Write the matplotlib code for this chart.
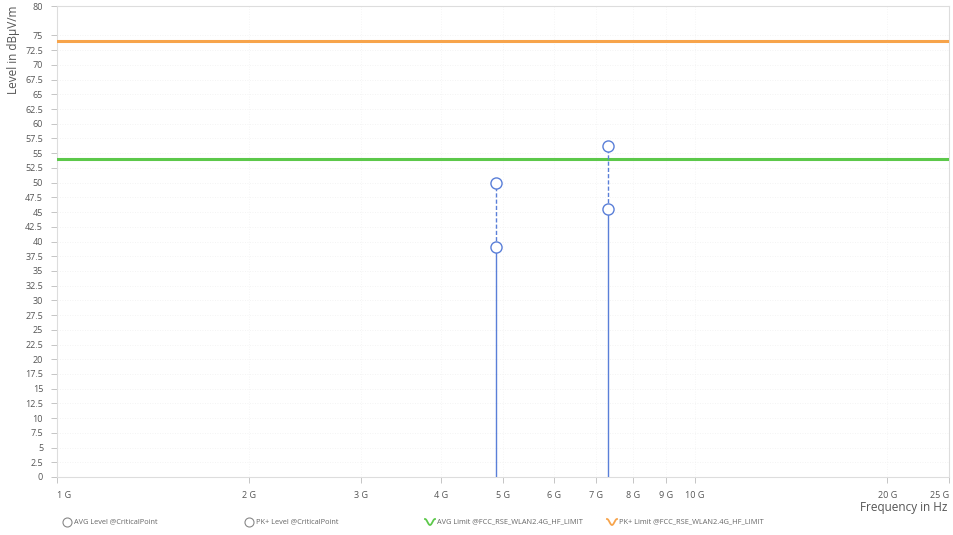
import numpy as np
import matplotlib
matplotlib.use("Agg")
import matplotlib.pyplot as plt
from matplotlib.ticker import FixedLocator, NullLocator

plt.rcParams['font.family'] = ['Open Sans', 'DejaVu Sans']

# Data
freqs_ghz = [4.874, 7.311]
avg_levels = [39.0, 45.5]
pk_levels = [49.9, 56.3]
avg_limit = 54.0
pk_limit = 74.0

xtick_vals = [1, 2, 3, 4, 5, 6, 7, 8, 9, 10, 20, 25]
xtick_labels = ["1 G", "2 G", "3 G", "4 G", "5 G", "6 G", "7 G", "8 G", "9 G", "10 G", "20 G", "25 G"]
ytick_vals = [i * 2.5 for i in range(31)] + [80]
ytick_labels = [("%g" % v) for v in ytick_vals]

legend_labels = ["AVG Level @CriticalPoint", "PK+ Level @CriticalPoint",
                 "AVG Limit @FCC_RSE_WLAN2.4G_HF_LIMIT", "PK+ Limit @FCC_RSE_WLAN2.4G_HF_LIMIT"]

blue = "#5a7fd8"
green = "#5cc84a"
orange = "#f7a44b"
txt = "#555555"

fig = plt.figure(figsize=(9.54, 5.35), dpi=100)
W, H = 954, 535
ax = fig.add_axes([57 / W, (H - 477) / H, (949 - 57) / W, (477 - 6) / H])
ax.set_xscale("log")
ax.set_xlim(1, 25)
ax.set_ylim(0, 80)

for s in ax.spines.values():
    s.set_color("#dddddd")
    s.set_linewidth(0.8)

ax.grid(True, axis="y", color="#f0f0f0", linestyle=(0, (1, 2)), linewidth=0.6)
ax.grid(True, axis="x", color="#f3f3f3", linestyle=(0, (1, 2)), linewidth=0.6)
ax.set_axisbelow(True)

ax.axhline(pk_limit, color=orange, lw=2.2, zorder=3)
ax.axhline(avg_limit, color=green, lw=2.2, zorder=3)

for f, a, p in zip(freqs_ghz, avg_levels, pk_levels):
    ax.plot([f, f], [0, a], color=blue, lw=1.0, zorder=4)
    ax.plot([f, f], [a, p], color=blue, lw=1.0, ls=(0, (3, 1.5)), zorder=4)
ax.plot(freqs_ghz, avg_levels, 'o', ms=8, mfc="white", mec=blue, mew=1.0, zorder=5)
ax.plot(freqs_ghz, pk_levels, 'o', ms=8, mfc="white", mec=blue, mew=1.0, zorder=5)

ax.xaxis.set_major_locator(FixedLocator(xtick_vals))
ax.xaxis.set_minor_locator(NullLocator())
ax.set_xticklabels(xtick_labels)
ax.yaxis.set_major_locator(FixedLocator(ytick_vals))
ax.set_yticklabels(ytick_labels)
ax.tick_params(axis="both", labelsize=6.5, colors="#bbbbbb", labelcolor=txt, length=4, width=0.6)
ax.tick_params(axis="x", pad=6)
ax.tick_params(axis="y", pad=6)
xt = ax.get_xticklabels()
xt[0].set_horizontalalignment("left")
xt[-1].set_horizontalalignment("right")

fig.text(14 / W, 1 - 5 / H, "Level in dBµV/m", rotation=90, ha="center", va="top",
         fontsize=8.5, color=txt)
fig.text(947 / W, 1 - 507 / H, "Frequency in Hz", ha="right", va="center",
         fontsize=8.5, color=txt)

# Legend overlay
lax = fig.add_axes([0, 0, 1, 1], facecolor="none")
lax.set_xlim(0, W)
lax.set_ylim(H, 0)
lax.axis("off")
ly = 522
lax.plot([67], [ly], 'o', ms=6.5, mfc="white", mec="#888888", mew=0.8)
lax.text(74, ly, legend_labels[0], fontsize=5.3, color="#666666", va="center")
lax.plot([249], [ly], 'o', ms=6.5, mfc="white", mec="#888888", mew=0.8)
lax.text(256, ly, legend_labels[1], fontsize=5.3, color="#666666", va="center")
t = np.linspace(0, 1, 30)
lax.plot(425 + 10 * t, ly - 3 * np.sin(2 * np.pi * t + np.pi / 2), color=green, lw=1.3)
lax.text(437, ly, legend_labels[2], fontsize=5.3, color="#666666", va="center")
lax.plot(607 + 10 * t, ly - 3 * np.sin(2 * np.pi * t + np.pi / 2), color=orange, lw=1.3)
lax.text(619, ly, legend_labels[3], fontsize=5.3, color="#666666", va="center")

fig.savefig("out.png", dpi=100, facecolor="white")
